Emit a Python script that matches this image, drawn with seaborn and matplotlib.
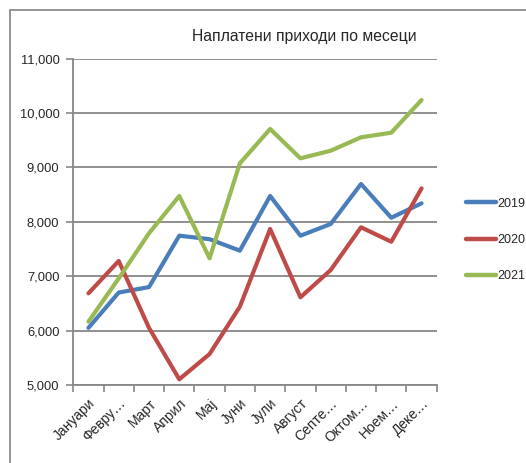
import matplotlib
matplotlib.use("Agg")
import matplotlib.pyplot as plt
import matplotlib.patches as mpatches
from matplotlib.ticker import FuncFormatter, FixedLocator
from matplotlib import font_manager
import seaborn as sns
import pandas as pd

months = ["Јануари", "Февру…", "Март", "Април", "Мај", "Јуни",
          "Јули", "Август", "Септе…", "Октом…", "Ноем…", "Деке…"]
years = ["2019", "2020", "2021"]
v2019 = [6050, 6700, 6800, 7745, 7680, 7470, 8475, 7745, 7960, 8695, 8075, 8340]
v2020 = [6685, 7280, 6050, 5105, 5570, 6440, 7868, 6612, 7114, 7899, 7634, 8615]
v2021 = [6164, 6960, 7790, 8474, 7329, 9075, 9706, 9167, 9307, 9553, 9638, 10239]
colors = ["#4A7EBB", "#BE4B48", "#98B954"]

rows = []
for y, vals in zip(years, [v2019, v2020, v2021]):
    for i, v in enumerate(vals):
        rows.append({"idx": i, "month": months[i], "year": y, "value": v})
df = pd.DataFrame(rows)

sns.set_style("white")
names = {f.name for f in font_manager.fontManager.ttflist}
font = [n for n in ["Liberation Sans Narrow", "DejaVu Sans Condensed",
                    "Liberation Sans", "DejaVu Sans"] if n in names]
plt.rcParams["font.family"] = font

fig = plt.figure(figsize=(5.26, 4.63), dpi=100)
W, H = 526, 463
ax = fig.add_axes([73.3 / W, 1 - 385 / H, (436.7 - 73.3) / W, (385 - 58.6) / H])

# outer chart border
fig.patches.append(mpatches.Rectangle((10 / W, -0.05), 1.2, 1 - 10 / H + 0.05,
                                      transform=fig.transFigure, fill=False,
                                      edgecolor="#8C8C8C", linewidth=1.3))

sns.lineplot(data=df, x="idx", y="value", hue="year", palette=colors,
             linewidth=3.0, ax=ax, legend=False)

ax.set_xlim(-0.5, 11.5)
ax.set_ylim(5000, 11000)
ax.set_yticks(range(5000, 11001, 1000))
ax.yaxis.set_major_formatter(FuncFormatter(lambda v, p: f"{int(v):,}"))
ax.grid(axis="y", color="#878787", linewidth=1.3)
ax.set_axisbelow(True)

for s in ["top", "right"]:
    ax.spines[s].set_visible(False)
for s in ["left", "bottom"]:
    ax.spines[s].set_color("#878787")
    ax.spines[s].set_linewidth(1.3)

ax.set_xticks(range(12))
ax.set_xticklabels(months, rotation=45, ha="right", va="top",
                   rotation_mode="anchor", fontsize=10, family=font)
ax.xaxis.set_minor_locator(FixedLocator([i - 0.5 for i in range(13)]))
ax.tick_params(axis="x", which="major", length=0, pad=8)
ax.tick_params(axis="x", which="minor", length=5, color="#878787", width=1.2,
               direction="out", bottom=True)
ax.tick_params(axis="y", length=5, color="#878787", width=1.2, direction="out",
               left=True, labelsize=9.3, pad=5)
for t in ax.get_yticklabels():
    t.set_family(font)
ax.set_xlabel("")
ax.set_ylabel("")

fig.text(304 / W, 1 - 36 / H, "Наплатени приходи по месеци", ha="center",
         va="center", fontsize=11.3, family=font)

handles = [plt.Line2D([], [], color=c, linewidth=3.2) for c in colors]
fig.legend(handles, years, loc="center left",
           bbox_to_anchor=(466 / W, 1 - 240 / H), frameon=False,
           handlelength=2.4, handletextpad=0.1, borderpad=0, borderaxespad=0,
           labelspacing=1.95, prop={"family": font, "size": 9})

fig.savefig("out.png", dpi=100)
